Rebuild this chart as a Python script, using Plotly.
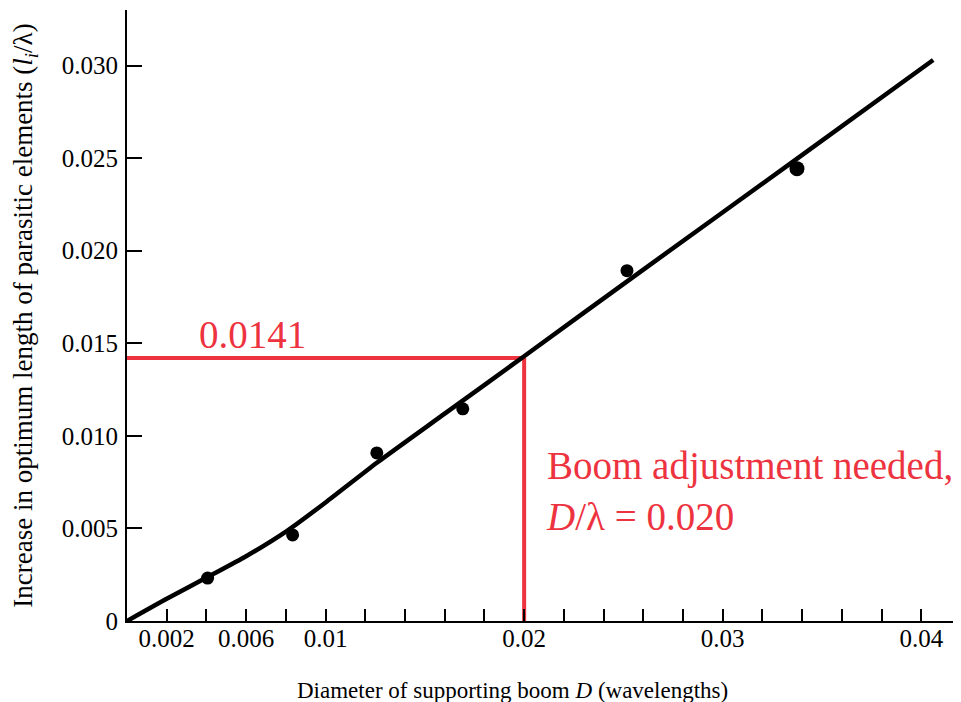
import plotly.graph_objects as go

# Measured data points (boom diameter in wavelengths vs increase in element length)
meas_x = [0.00406, 0.00834, 0.01258, 0.01691, 0.02518, 0.03374]
meas_y = [0.00232, 0.00465, 0.00908, 0.01146, 0.01892, 0.02443]

# Fitted curve
curve_x = [0.0, 0.0020, 0.0041, 0.0060, 0.0081, 0.0100, 0.0126, 0.0160, 0.0200, 0.0259, 0.0334, 0.0406]
curve_y = [0.0, 0.0012, 0.0024, 0.0035, 0.0049, 0.0064, 0.00856, 0.0112, 0.0143, 0.0189, 0.0247, 0.0303]

# Annotation lookup
boom_d = 0.020
length_inc = 0.0142
length_label = "0.0141"

# Tick definitions
x_tickvals = [round(0.002 * i, 3) for i in range(1, 21)]
x_labeled = {0.002: "0.002", 0.006: "0.006", 0.01: "0.01", 0.02: "0.02", 0.03: "0.03", 0.04: "0.04"}
x_ticktext = [x_labeled.get(v, "") for v in x_tickvals]
y_tickvals = [0, 0.005, 0.010, 0.015, 0.020, 0.025, 0.030]
y_ticktext = ["0", "0.005", "0.010", "0.015", "0.020", "0.025", "0.030"]

RED = "#EE3340"
SERIF = "Liberation Serif"

fig = go.Figure()
fig.add_trace(go.Scatter(
    x=curve_x, y=curve_y, mode="lines",
    line=dict(color="black", width=4.5, shape="spline", smoothing=0.6),
    hoverinfo="skip", showlegend=False,
))
fig.add_trace(go.Scatter(
    x=meas_x, y=meas_y, mode="markers",
    marker=dict(color="#000000", opacity=1, size=[13, 13, 13, 13, 13, 15],
                line=dict(width=0)),
    showlegend=False,
))

fig.add_shape(type="line", x0=0, x1=boom_d, y0=length_inc, y1=length_inc,
              line=dict(color=RED, width=4), layer="below")
fig.add_shape(type="line", x0=boom_d, x1=boom_d, y0=0, y1=length_inc,
              line=dict(color=RED, width=4), layer="below")

fig.add_annotation(x=0.00355, y=length_inc, text=length_label, showarrow=False,
                   xanchor="left", yanchor="bottom",
                   font=dict(family=SERIF, size=39, color=RED))
fig.add_annotation(x=0.0210, y=0.0070,
                   text="Boom adjustment needed,<br><i>D</i>/λ = 0.020",
                   showarrow=False, xanchor="left", yanchor="middle", align="left",
                   font=dict(family=SERIF, size=39, color=RED))

# x-axis title (placed as annotation, slightly left of the plot centre as in the original)
fig.add_annotation(x=0.0194, xref="x", y=-0.113, yref="paper",
                   text="Diameter of supporting boom <i>D</i> (wavelengths)",
                   showarrow=False, xanchor="center", yanchor="middle",
                   font=dict(family=SERIF, size=23, color="black"))

fig.update_layout(
    width=953, height=694,
    margin=dict(l=119, r=2, t=2, b=81),
    paper_bgcolor="white", plot_bgcolor="white",
    font=dict(family=SERIF, color="black"),
    xaxis=dict(
        range=[0, 0.0419], showgrid=False, zeroline=False, automargin=False,
        showline=True, linecolor="black", linewidth=2,
        ticks="inside", ticklen=12, tickwidth=2, tickcolor="black",
        tickvals=x_tickvals, ticktext=x_ticktext, ticklabelstandoff=-6,
        tickfont=dict(family=SERIF, size=25, color="black"),
    ),
    yaxis=dict(
        range=[0, 0.033], showgrid=False, zeroline=False, automargin=False,
        showline=True, linecolor="black", linewidth=2,
        ticks="inside", ticklen=15, tickwidth=2, tickcolor="black",
        tickvals=y_tickvals, ticktext=y_ticktext, ticklabelstandoff=2,
        tickfont=dict(family=SERIF, size=25, color="black"),
        title=dict(text="Increase in optimum length of parasitic elements (<i>l<sub>i</sub></i>/λ)",
                   font=dict(family=SERIF, size=27, color="black"), standoff=25),
    ),
)

fig.write_html("out.html")
